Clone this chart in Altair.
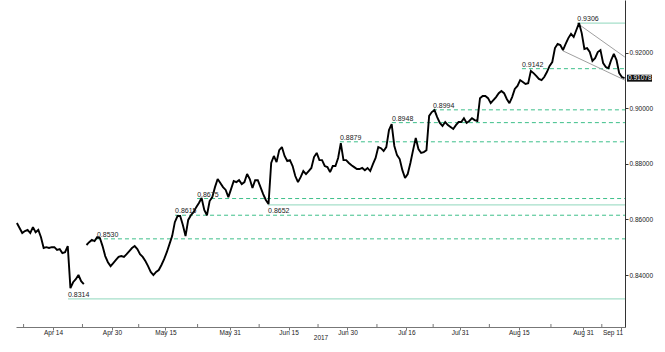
import altair as alt
import numpy as np
import pandas as pd

# ---------------- data ----------------
base_day = "2017-04-03"          # trading-day counter origin
session_start = "2017-04-05"
session_end = "2017-09-11"
sample_hours = [6, 18]
gap_after = "2017-04-22"         # break in the price line (weekend gap)

prices = [
    0.8587, 0.8569, 0.8551, 0.8558, 0.8562, 0.8551, 0.8572, 0.8554, 0.8562, 0.8536,
    0.8497, 0.8500, 0.8497, 0.8500, 0.8500, 0.8490, 0.8493, 0.8479, 0.8482, 0.8504,
    0.8353, 0.8374, 0.8385, 0.8400, 0.8378, 0.8367, 0.8508, 0.8518, 0.8526, 0.8522,
    0.8536, 0.8533, 0.8504, 0.8468, 0.8446, 0.8432, 0.8443, 0.8454, 0.8465, 0.8468,
    0.8465, 0.8475, 0.8486, 0.8497, 0.8504, 0.8493, 0.8475, 0.8465, 0.8450, 0.8432,
    0.8411, 0.8400, 0.8411, 0.8418, 0.8436, 0.8457, 0.8482, 0.8511, 0.8540, 0.8590,
    0.8612, 0.8612, 0.8580, 0.8540, 0.8598, 0.8615, 0.8626, 0.8644, 0.8659, 0.8677,
    0.8634, 0.8615, 0.8666, 0.8680, 0.8716, 0.8745, 0.8731, 0.8716, 0.8706, 0.8680,
    0.8709, 0.8738, 0.8734, 0.8741, 0.8727, 0.8734, 0.8763, 0.8745, 0.8713, 0.8741,
    0.8741, 0.8716, 0.8691, 0.8670, 0.8655, 0.8803, 0.8828, 0.8806, 0.8849, 0.8860,
    0.8828, 0.8810, 0.8813, 0.8792, 0.8756, 0.8734, 0.8752, 0.8774, 0.8763, 0.8774,
    0.8785, 0.8824, 0.8839, 0.8813, 0.8813, 0.8792, 0.8788, 0.8770, 0.8792, 0.8792,
    0.8821, 0.8874, 0.8813, 0.8813, 0.8803, 0.8795, 0.8788, 0.8781, 0.8781, 0.8785,
    0.8777, 0.8785, 0.8774, 0.8799, 0.8821, 0.8860, 0.8856, 0.8846, 0.8860, 0.8921,
    0.8943, 0.8864, 0.8831, 0.8817, 0.8777, 0.8749, 0.8763, 0.8803, 0.8849, 0.8893,
    0.8853, 0.8839, 0.8842, 0.8849, 0.8972, 0.8986, 0.8993, 0.8968, 0.8947, 0.8936,
    0.8950, 0.8939, 0.8932, 0.8925, 0.8939, 0.8950, 0.8950, 0.8964, 0.8947, 0.8954,
    0.8964, 0.8957, 0.8954, 0.9036, 0.9044, 0.9044, 0.9036, 0.9018, 0.9029, 0.9040,
    0.9054, 0.9062, 0.9054, 0.9033, 0.9018, 0.9040, 0.9069, 0.9080, 0.9101, 0.9094,
    0.9087, 0.9090, 0.9134, 0.9126, 0.9116, 0.9105, 0.9101, 0.9112, 0.9130, 0.9152,
    0.9166, 0.9216, 0.9231, 0.9227, 0.9209, 0.9231, 0.9252, 0.9267, 0.9256, 0.9281,
    0.9306, 0.9270, 0.9213, 0.9216, 0.9202, 0.9170, 0.9180, 0.9202, 0.9209, 0.9162,
    0.9148, 0.9144, 0.9173, 0.9195, 0.9173, 0.9126, 0.9112, 0.9108,
]

levels = [0.9306, 0.9142, 0.8994, 0.8948, 0.8879, 0.8675, 0.8652, 0.8615, 0.8530, 0.8314]
level_starts = ["2017-08-29 22:00", "2017-08-15 14:00", "2017-07-21 23:00", "2017-07-12 07:00",
                "2017-06-28 14:00", "2017-05-22 22:00", "2017-06-09 04:00", "2017-05-16 19:00",
                "2017-04-26 05:00", "2017-04-18 19:00"]
level_styles = ["solid", "dashed", "dashed", "dashed", "dashed",
                "dashed", "solid", "dashed", "dashed", "solid"]
level_label_side = ["above", "above", "above", "above", "above",
                    "above", "below", "above", "above", "above"]

channel_names = ["upper", "lower"]
channel_start_times = ["2017-08-29 21:00", "2017-08-25 06:00"]
channel_start_values = [0.9306, 0.9206]
channel_end_times = ["2017-09-11 19:00", "2017-09-11 19:00"]
channel_end_values = [0.9184, 0.9101]

last_price = 0.91078

tick_dates = ["2017-04-14", "2017-04-30", "2017-05-15", "2017-05-31", "2017-06-15", "2017-06-30",
              "2017-07-16", "2017-07-31", "2017-08-15", "2017-08-31", "2017-09-11"]
tick_labels = ["Apr 14", "Apr 30", "May 15", "May 31", "Jun 15", "Jun 30",
               "Jul 16", "Jul 31", "Aug 15", "Aug 31", "Sep 11"]
x_title = "2017"
x_start = "2017-04-05 02:00"
x_end = "2017-09-11 20:00"
y_min, y_max = 0.8213, 0.9389
y_ticks = [0.84, 0.86, 0.88, 0.90, 0.92]

# ---------------- helpers ----------------
def trading_index(ts):
    ts = pd.Timestamp(ts)
    day = np.datetime64(ts.normalize().date())
    day = np.busday_offset(day, 0, roll="forward")
    frac = (ts - ts.normalize()).total_seconds() / 86400.0
    return float(np.busday_count(base_day, day)) + frac


days = pd.bdate_range(session_start, session_end)
times = [d + pd.Timedelta(hours=h) for d in days for h in sample_hours][: len(prices)]
price_df = pd.DataFrame({
    "t": [trading_index(t) for t in times],
    "price": prices,
    "leg": [0 if t < pd.Timestamp(gap_after) else 1 for t in times],
})

x0, x1 = trading_index(x_start), trading_index(x_end)

level_df = pd.DataFrame({
    "level": levels,
    "t": [trading_index(s) for s in level_starts],
    "t_end": x1,
    "style": level_styles,
    "side": level_label_side,
    "label": [f"{v:.4f}" for v in levels],
})

channel_df = pd.DataFrame({
    "name": channel_names,
    "t": [trading_index(s) for s in channel_start_times],
    "v": channel_start_values,
    "t2": [trading_index(s) for s in channel_end_times],
    "v2": channel_end_values,
})

tick_pos = [trading_index(d) for d in tick_dates]
mids = [(a + b) / 2 for a, b in zip(tick_pos[:-1], tick_pos[1:])]
mids = [2 * tick_pos[0] - mids[0]] + mids
mid_df = pd.DataFrame({"t": mids})

box_half = 0.00125
last_df = pd.DataFrame({"v": [last_price], "lo": [last_price - box_half],
                        "hi": [last_price + box_half], "label": [f"{last_price:.5f}"]})

# ---------------- chart ----------------
W, H = 609, 327
FONT = "Liberation Sans"
TXT = "#222222"

xscale = alt.Scale(domain=[x0, x1], nice=False, zero=False)
yscale = alt.Scale(domain=[y_min, y_max], nice=False, zero=False)

label_expr = "[" + ",".join(f"'{l}'" for l in tick_labels) + "][indexof([" + \
    ",".join(str(p) for p in tick_pos) + "], datum.value)]"

x_axis = alt.Axis(values=tick_pos, labelExpr=label_expr, title=x_title, grid=False,
                  tickSize=3, labelPadding=-1, labelFont=FONT, labelFontSize=6.5,
                  labelColor=TXT, titleFont=FONT, titleFontSize=6.5, titleFontWeight="normal",
                  titleColor=TXT, titlePadding=-1, domainColor="#777777", tickColor="#777777",
                  labelFlush=8, labelFlushOffset=2, labelOverlap=False)
y_axis = alt.Axis(orient="right", values=y_ticks, format=".5f", title=None, grid=False,
                  tickSize=3, labelPadding=1, labelFont=FONT, labelFontSize=6.5,
                  labelColor=TXT, domainColor="#333333", tickColor="#333333")


def X(field):
    return alt.X(field, scale=xscale, axis=x_axis)


def Y(field):
    return alt.Y(field, scale=yscale, axis=y_axis)


solid_lines = alt.Chart(level_df).transform_filter("datum.style == 'solid'").mark_rule(
    color="#a6dfca", strokeWidth=1.2
).encode(x=X("t:Q"), x2="t_end:Q", y=Y("level:Q"))

dashed_lines = alt.Chart(level_df).transform_filter("datum.style == 'dashed'").mark_rule(
    color="#3dbf8a", strokeWidth=1, strokeDash=[4, 3]
).encode(x=X("t:Q"), x2="t_end:Q", y=Y("level:Q"))

channel = alt.Chart(channel_df).mark_rule(color="#a0a0a0", strokeWidth=1).encode(
    x=X("t:Q"), x2="t2:Q", y=Y("v:Q"), y2="v2:Q")

line = alt.Chart(price_df).mark_line(color="#000000", strokeWidth=1.9,
                                     strokeJoin="miter", strokeMiterLimit=2).encode(
    x=X("t:Q"), y=Y("price:Q"), detail="leg:N")

labels_above = alt.Chart(level_df).transform_filter("datum.side == 'above'").mark_text(
    align="left", baseline="bottom", dy=-1, font=FONT, fontSize=7, color=TXT
).encode(x=X("t:Q"), y=Y("level:Q"), text="label:N")

labels_below = alt.Chart(level_df).transform_filter("datum.side == 'below'").mark_text(
    align="left", baseline="top", dy=2, font=FONT, fontSize=7, color=TXT
).encode(x=X("t:Q"), y=Y("level:Q"), text="label:N")

mid_ticks = alt.Chart(mid_df).mark_rule(color="#777777", strokeWidth=1).encode(
    x=X("t:Q"), y=alt.value(H - 3), y2=alt.value(H))

last_box = alt.Chart(last_df).mark_rect(color="#111111", clip=False).encode(
    x=alt.value(W + 2), x2=alt.value(W + 27), y=Y("lo:Q"), y2="hi:Q")

last_text = alt.Chart(last_df).mark_text(
    align="left", baseline="middle", font=FONT, fontSize=6.5, color="#ffffff", clip=False
).encode(x=alt.value(W + 3), y=Y("v:Q"), text="label:N")

chart = alt.layer(
    solid_lines, dashed_lines, channel, line, labels_above, labels_below,
    mid_ticks, last_box, last_text
).properties(
    width=W, height=H,
    autosize=alt.AutoSizeParams(type="none"),
    padding={"left": 16, "top": 0, "right": 40, "bottom": 25},
    background="white",
).configure_view(stroke=None)

chart.save("out.html", embed_options={"renderer": "svg", "actions": False})
